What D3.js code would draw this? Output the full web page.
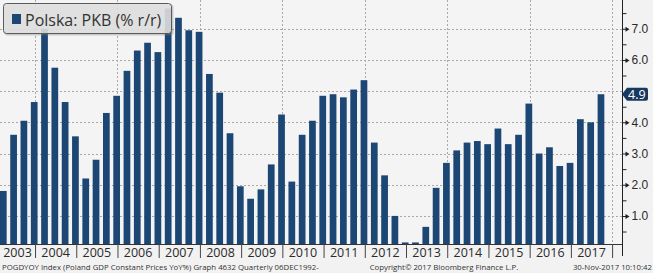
<!DOCTYPE html>
<html>
<head>
<meta charset="utf-8">
<script src="https://cdn.jsdelivr.net/npm/d3@7"></script>
<style>
    body { margin: 0; background: #f2f2f2; }
    svg { display: block; font-family: "Open Sans", sans-serif; }
</style>
</head>
<body>
<div id="chart-container"></div>
<script>
// Quarterly Polish GDP growth, % y/y
const quarters = [
    "2003Q1", "2003Q2", "2003Q3", "2003Q4",
    "2004Q1", "2004Q2", "2004Q3", "2004Q4",
    "2005Q1", "2005Q2", "2005Q3", "2005Q4",
    "2006Q1", "2006Q2", "2006Q3", "2006Q4",
    "2007Q1", "2007Q2", "2007Q3", "2007Q4",
    "2008Q1", "2008Q2", "2008Q3", "2008Q4",
    "2009Q1", "2009Q2", "2009Q3", "2009Q4",
    "2010Q1", "2010Q2", "2010Q3", "2010Q4",
    "2011Q1", "2011Q2", "2011Q3", "2011Q4",
    "2012Q1", "2012Q2", "2012Q3", "2012Q4",
    "2013Q1", "2013Q2", "2013Q3", "2013Q4",
    "2014Q1", "2014Q2", "2014Q3", "2014Q4",
    "2015Q1", "2015Q2", "2015Q3", "2015Q4",
    "2016Q1", "2016Q2", "2016Q3", "2016Q4",
    "2017Q1", "2017Q2", "2017Q3"
]
const gdpYoY = [
    1.8, 3.6, 4.05, 4.65,
    7.0, 5.75, 4.65, 3.55,
    2.2, 2.8, 4.3, 4.85,
    5.65, 6.3, 6.55, 6.25,
    7.65, 7.35, 6.95, 6.9,
    5.55, 4.95, 3.65, 1.95,
    1.55, 1.85, 2.65, 4.25,
    2.1, 3.6, 4.05, 4.85,
    4.9, 4.8, 5.05, 5.35,
    3.35, 2.3, 1.0, 0.15,
    0.15, 0.65, 1.9, 2.7,
    3.1, 3.35, 3.4, 3.3,
    3.8, 3.3, 3.6, 4.6,
    3.0, 3.2, 2.6, 2.7,
    4.1, 4.0, 4.9
]
const years = [2003, 2004, 2005, 2006, 2007, 2008, 2009, 2010, 2011, 2012, 2013, 2014, 2015, 2016, 2017]
const gridYears = [2004, 2006, 2008, 2010, 2012, 2014, 2016, 2018]
const yGridTicks = [1, 2, 3, 4, 5, 6, 7]
const yLabelTicks = [1, 2, 3, 4, 6, 7]   // 5.0 sits under the last-value tag
const yMinorTicks = [0.5, 1.5, 2.5, 3.5, 4.5, 5.5, 6.5, 7.5]
const legendLabel = "Polska: PKB (% r/r)"
const footerSource = "POGDYOY Index (Poland GDP Constant Prices YoY%) Graph 4632  Quarterly 06DEC1992-"
const footerCopyright = "Copyright\u00a9 2017 Bloomberg Finance L.P."
const footerDate = "30-Nov-2017 10:10:42"

class BloombergBarPlotter {
    constructor(options) {
        this.width = options.width
        this.height = options.height
        this.plotRight = 622
        this.plotBottom = 244
        this.barColor = "#1c4673"

        // fractional years on x, quarter bars sit just before quarter end
        this.x = d3.scaleLinear().domain([2003.15, 2018.24]).range([0, this.plotRight])
        this.y = d3.scaleLinear().domain([0.1, 7.92]).range([this.plotBottom, 0])

        this.svg = d3.select('#chart-container')
            .append('svg')
            .attr('width', this.width)
            .attr('height', this.height)
    }

    plot() {
        this.#drawBackground()
        this.#drawGrid()
        this.#drawBars()
        this.#drawYAxis()
        this.#drawXAxis()
        this.#drawLastValue()
        this.#drawLegend()
        this.#drawFooter()
    }

    #quarterPos(q) {
        let year = +q.slice(0, 4)
        let n = +q.slice(5)
        return year + n * 0.25 - 0.02
    }

    #drawBackground() {
        this.svg.append("rect")
            .attr("width", this.width)
            .attr("height", this.height)
            .attr("fill", "#f2f2f2")
        this.svg.append("rect")
            .attr("width", this.plotRight)
            .attr("height", this.plotBottom)
            .attr("fill", "#f4f4f4")
    }

    #drawGrid() {
        let grid = this.svg.append("g").attr("class", "grid")
        grid.selectAll(".hgrid")
            .data(yGridTicks)
            .enter()
            .append("line")
            .attr("x1", 0)
            .attr("x2", this.plotRight)
            .attr("y1", d => Math.round(this.y(d)) + 0.5)
            .attr("y2", d => Math.round(this.y(d)) + 0.5)
            .attr("stroke", "#a8a8a8")
            .attr("stroke-dasharray", "2,2")
        grid.selectAll(".vgrid")
            .data(gridYears)
            .enter()
            .append("line")
            .attr("x1", d => Math.round(this.x(d)) + 0.5)
            .attr("x2", d => Math.round(this.x(d)) + 0.5)
            .attr("y1", 0)
            .attr("y2", this.plotBottom)
            .attr("stroke", "#a8a8a8")
            .attr("stroke-dasharray", "2,2")
    }

    #drawBars() {
        let barWidth = this.x(2003.163) - this.x(2003)
        this.svg.selectAll(".bar")
            .data(gdpYoY)
            .enter()
            .append("rect")
            .attr("class", "bar")
            .attr("x", (d, i) => this.x(this.#quarterPos(quarters[i])) - barWidth / 2)
            .attr("width", barWidth)
            .attr("y", d => this.y(d))
            .attr("height", d => this.plotBottom - this.y(d))
            .attr("fill", this.barColor)
    }

    #drawYAxis() {
        let axisX = this.plotRight + 0.5
        let axis = this.svg.append("g")
            .attr("transform", "translate(" + axisX + ",0)")

        axis.call(d3.axisRight(this.y)
                .tickValues(yLabelTicks)
                .tickFormat(d3.format(".1f"))
                .tickSize(0)
                .tickPadding(9))
        axis.select(".domain").remove()
        axis.selectAll("text")
            .attr("fill", "#2a2a2a")
            .style("font-size", "12px")
        // arrow-like major ticks
        axis.selectAll(".tick")
            .append("path")
            .attr("d", "M0,-0.5H3L3,-2.5L7,0L3,2.5L3,0.5H0Z")
            .attr("fill", "#222")

        let minor = this.svg.append("g")
            .attr("transform", "translate(" + axisX + ",0)")
            .call(d3.axisRight(this.y).tickValues(yMinorTicks).tickSize(4).tickFormat(""))
        minor.select(".domain").remove()
        minor.selectAll("line").attr("stroke", "#222")

        this.svg.append("line")
            .attr("x1", axisX).attr("x2", axisX)
            .attr("y1", 0).attr("y2", 256)
            .attr("stroke", "#222")
    }

    #drawXAxis() {
        this.svg.append("line")
            .attr("x1", 0).attr("x2", this.plotRight)
            .attr("y1", this.plotBottom + 0.5).attr("y2", this.plotBottom + 0.5)
            .attr("stroke", "#333")

        let axis = this.svg.append("g")
            .attr("transform", "translate(0," + this.plotBottom + ")")
            .call(d3.axisBottom(this.x)
                .tickValues(years.concat([2018]))
                .tickSize(14)
                .tickFormat(""))
        axis.select(".domain").remove()
        axis.selectAll("line").attr("stroke", "#444")

        // year labels centred in the visible part of each year
        this.svg.selectAll(".year-label")
            .data(years)
            .enter()
            .append("text")
            .attr("class", "year-label")
            .attr("x", d => (Math.max(this.x(d), 0) + Math.min(this.x(d + 1), this.plotRight)) / 2)
            .attr("y", 257)
            .attr("text-anchor", "middle")
            .attr("fill", "#2a2a2a")
            .style("font-size", "12.5px")
            .text(d => d)
    }

    #drawLastValue() {
        let last = gdpYoY[gdpYoY.length - 1]
        let ly = this.y(last)
        let x0 = this.plotRight
        let tag = this.svg.append("g")
            .attr("transform", "translate(" + x0 + "," + ly + ")")
        tag.append("path")
            .attr("d", "M0,0L5,-6.5H24Q26,-6.5 26,-4.5V4.5Q26,6.5 24,6.5H5Z")
            .attr("fill", "#17395f")
        tag.append("text")
            .attr("x", 6)
            .attr("y", 4.5)
            .attr("fill", "white")
            .style("font-size", "12.5px")
            .text(d3.format(".1f")(last))
    }

    #drawLegend() {
        let legend = this.svg.append("g").attr("id", "legend")
        legend.append("rect")
            .attr("x", 4.5).attr("y", 4.5)
            .attr("width", 169).attr("height", 31)
            .attr("rx", 3)
            .attr("fill", "#7a7a7a")
            .attr("opacity", 0.35)
        legend.append("rect")
            .attr("x", 3.5).attr("y", 3.5)
            .attr("width", 168).attr("height", 30)
            .attr("rx", 3)
            .attr("fill", "#e4e4e4")
            .attr("fill-opacity", 0.85)
            .attr("stroke", "#5a5a5a")
        legend.append("rect")
            .attr("x", 12).attr("y", 14)
            .attr("width", 9).attr("height", 10)
            .attr("fill", this.barColor)
        legend.append("text")
            .attr("x", 25)
            .attr("y", 25.5)
            .attr("fill", "#333")
            .style("font-size", "16px")
            .text(legendLabel)
    }

    #drawFooter() {
        let footer = this.svg.append("g")
            .style("font-size", "7.8px")
            .attr("fill", "#333")
        footer.append("text").attr("x", 2).attr("y", 270).text(footerSource)
        footer.append("text").attr("x", 444).attr("y", 270).attr("text-anchor", "middle").text(footerCopyright)
        footer.append("text").attr("x", 652).attr("y", 270).attr("text-anchor", "end").text(footerDate)
    }
}

const plotter = new BloombergBarPlotter({ width: 653, height: 273 })
plotter.plot()
</script>
</body>
</html>
